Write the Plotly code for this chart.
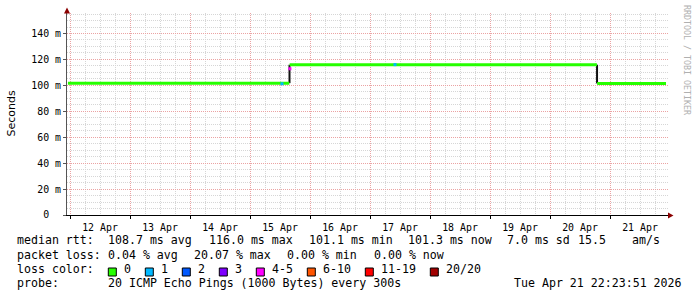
import plotly.graph_objects as go

# ---------------- data ----------------
seg_start = ["2026-04-11 23:10", "2026-04-15 15:52", "2026-04-20 18:52"]
seg_end = ["2026-04-15 15:44", "2026-04-20 18:46", "2026-04-21 22:24"]
seg_rtt = [101.7, 115.9, 101.5]
step_times = ["2026-04-15 15:48", "2026-04-20 18:49"]

dot_times = ["2026-04-15 12:48", "2026-04-15 15:58", "2026-04-17 10:00"]
dot_rtt = [101.2, 112.8, 116.0]
dot_colors = ["#00b8ff", "#ff00ff", "#00b8ff"]

y_ticks = [0, 20, 40, 60, 80, 100, 120, 140]
y_ticktext = ["0\u00a0\u00a0", "20 m", "40 m", "60 m", "80 m", "100 m", "120 m", "140 m"]

rtt_labels = ["median rtt:", "108.7 ms avg", "116.0 ms max", "101.1 ms min",
              "101.3 ms now", "7.0 ms sd", "15.5", "am/s"]
loss_labels = ["packet loss:", "0.04 % avg", "20.07 % max", "0.00 % min", "0.00 % now"]
loss_color_names = ["0", "1", "2", "3", "4-5", "6-10", "11-19", "20/20"]
loss_color_vals = ["#26ff00", "#00b8ff", "#0059ff", "#7e00ff", "#ff00ff",
                   "#ff5500", "#ff0000", "#a10000"]
probe_labels = ["probe:", "20 ICMP Echo Pings (1000 Bytes) every 300s",
                "Tue Apr 21 22:23:51 2026"]

# ---------------- layout geometry ----------------
W, H = 697, 297
L, R, T, B = 67, 29, 13, 82
PW, PH = W - L - R, H - T - B


def px(x):
    return (x - L) / PW


def py(y):
    return (H - B - y) / PH


fig = go.Figure()

# black step (transitions)
bx, by = [], []
for i, t in enumerate(step_times):
    bx += [t, t, None]
    by += [seg_rtt[i], seg_rtt[i + 1], None]
fig.add_trace(go.Scatter(x=bx, y=by, mode="lines",
                         line=dict(color="#111111", width=2), hoverinfo="skip"))

# green median segments
gx, gy = [], []
for s, e, v in zip(seg_start, seg_end, seg_rtt):
    gx += [s, e, None]
    gy += [v, v, None]
fig.add_trace(go.Scatter(x=gx, y=gy, mode="lines",
                         line=dict(color="#26ff00", width=3), hoverinfo="skip"))

fig.add_trace(go.Scatter(x=dot_times, y=dot_rtt, mode="markers",
                         marker=dict(color=dot_colors, size=3, symbol="square",
                                     line=dict(width=0)), hoverinfo="skip"))

mono = "DejaVu Sans Mono"
fig.update_layout(
    width=W, height=H,
    margin=dict(l=L, r=R, t=T, b=B, pad=0),
    paper_bgcolor="white", plot_bgcolor="white",
    showlegend=False,
    xaxis=dict(
        type="date",
        range=["2026-04-11 22:48", "2026-04-21 23:12"],
        tick0="2026-04-12", dtick=86400000,
        ticklabelmode="period", tickformat="%d %b",
        tickfont=dict(family=mono, size=9.9, color="black"),
        ticks="outside", ticklen=3, tickcolor="black",
        showline=True, linecolor="black", linewidth=1,
        showgrid=True, gridcolor="#eba3a3", griddash="1px,1px", gridwidth=1,
        minor=dict(dtick=21600000, tick0="2026-04-12", showgrid=True,
                   gridcolor="#d6d6d6", griddash="1px,1px", ticks=""),
        zeroline=False, fixedrange=True,
    ),
    yaxis=dict(
        range=[0, 155.8],
        tickvals=y_ticks, ticktext=y_ticktext,
        tickfont=dict(family=mono, size=9.9, color="black"),
        ticks="outside", ticklen=3, tickcolor="#555555",
        showline=True, linecolor="#555555", linewidth=1,
        showgrid=True, gridcolor="#eba3a3", griddash="1px,1px", gridwidth=1,
        minor=dict(dtick=5, tick0=0, showgrid=True,
                   gridcolor="#d6d6d6", griddash="1px,1px", ticks=""),
        zeroline=False, fixedrange=True,
    ),
)

ann = []
font = dict(family=mono, size=11.6, color="black")


def txt(x, y, s, **kw):
    d = dict(x=px(x), y=py(y), xref="paper", yref="paper", text=s.replace(" ", "\u00a0"),
             showarrow=False, xanchor="left", yanchor="middle", font=font,
             borderpad=0)
    d.update(kw)
    ann.append(d)


rows = [240.5, 254.7, 268.9, 283.1]
rtt_x = [16, 107.3, 207.7, 307.7, 407.3, 506, 577, 631.3]
for x, s in zip(rtt_x, rtt_labels):
    txt(x, rows[0], s)
loss_x = [16, 107.3, 193.3, 286, 372.7]
for x, s in zip(loss_x, loss_labels):
    txt(x, rows[1], s)
txt(16, rows[2], "loss color:")
shapes = []
bxp = 108.3
for name, col in zip(loss_color_names, loss_color_vals):
    shapes.append(dict(type="rect", xref="paper", yref="paper",
                       x0=px(bxp), x1=px(bxp + 8), y0=py(276), y1=py(268),
                       fillcolor=col, line=dict(color="black", width=1)))
    txt(bxp + 14.5, rows[2], name)
    bxp += 37 + 7 * (len(name) - 1)
probe_x = [16, 107.3, 513.3]
for x, s in zip(probe_x, probe_labels):
    txt(x, rows[3], s)

# axis title and watermark
ann.append(dict(x=px(11), y=py(113.5), xref="paper", yref="paper", text="Seconds",
                showarrow=False, textangle=-90, xanchor="center", yanchor="middle",
                font=dict(family="DejaVu Sans", size=11, color="black")))
ann.append(dict(x=px(687), y=py(60), xref="paper", yref="paper",
                text="RRDTOOL / TOBI OETIKER".replace(" ", "\u00a0"),
                showarrow=False, textangle=90, xanchor="center", yanchor="middle",
                font=dict(family=mono, size=8.3, color="#b0b0b0")))

# axis arrows
shapes.append(dict(type="path", xref="paper", yref="paper",
                   path=f"M {px(668)} {py(212.5)} L {px(673.5)} {py(215.5)} L {px(668)} {py(218.5)} Z",
                   fillcolor="#8b0000", line=dict(color="#8b0000", width=0)))
shapes.append(dict(type="path", xref="paper", yref="paper",
                   path=f"M {px(64)} {py(13.5)} L {px(67)} {py(7.5)} L {px(70)} {py(13.5)} Z",
                   fillcolor="#8b0000", line=dict(color="#8b0000", width=0)))

fig.update_layout(annotations=ann, shapes=shapes)
fig.write_html("out.html")
